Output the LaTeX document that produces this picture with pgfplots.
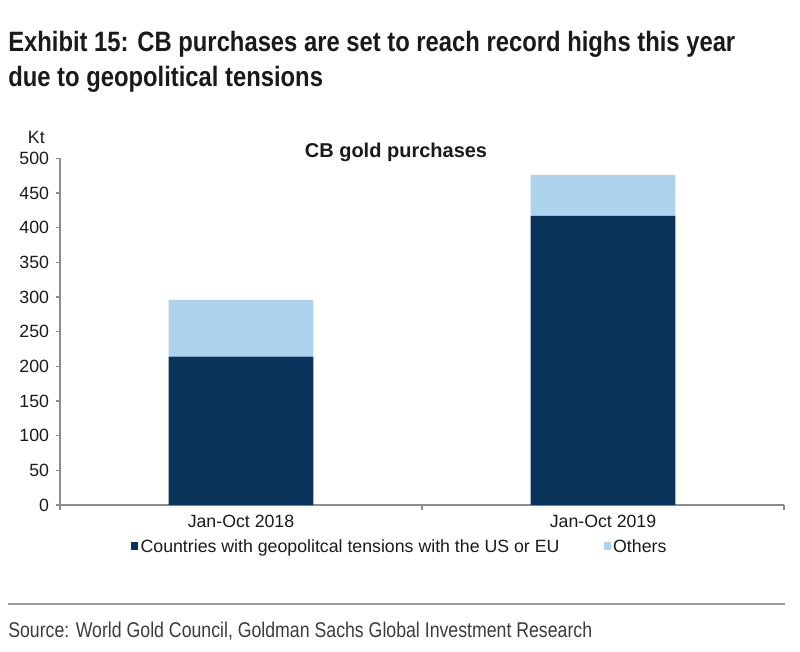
\documentclass[border=0pt]{standalone}
\usepackage{pgfplots}
\pgfplotsset{compat=1.18}
\usepackage{fontspec}
\setmainfont{Liberation Sans}
\newfontfamily\titlefont[FakeStretch=0.85]{Liberation Sans}
\newfontfamily\narrowfont[FakeStretch=0.83]{Liberation Sans}

\definecolor{cbnavy}{HTML}{0A335C}
\definecolor{cblight}{HTML}{AED3EE}
\definecolor{axisgray}{HTML}{8C8C8C}
\definecolor{rulegray}{HTML}{9A9A9A}
\definecolor{txt}{HTML}{1A1A1A}

% image is 800x651 px, 1px = 0.75pt, origin at top left
\begin{document}
\begin{tikzpicture}
\path[use as bounding box] (0pt,0pt) rectangle (600pt,-488.25pt);

\node[anchor=base west, inner sep=0pt, text=txt] at (6pt,-38.25pt)
  {\fontsize{21}{26}\titlefont\bfseries Exhibit 15: CB purchases are set to reach record highs this year};
\node[anchor=base west, inner sep=0pt, text=txt] at (6pt,-64.5pt)
  {\fontsize{21}{26}\titlefont\bfseries due to geopolitical tensions};

\node[anchor=base east, inner sep=0pt, text=txt] at (33.75pt,-107.25pt)
  {\fontsize{13.3}{15}\selectfont Kt};
\node[anchor=base, inner sep=0pt, text=txt] at (297pt,-117.75pt)
  {\fontsize{15}{18}\selectfont\bfseries CB gold purchases};

\begin{axis}[
    at={(45pt,-378.75pt)}, anchor=south west,
    scale only axis, width=543pt, height=260pt,
    xmin=-0.5, xmax=1.5, ymin=0, ymax=500,
    axis lines*=left,
    axis line style={draw=axisgray, line width=0.9pt},
    ybar stacked, bar width=0.4,
    xtick={0,1}, xticklabels={Jan-Oct 2018, Jan-Oct 2019},
    major x tick style={draw=none},
    minor xtick={-0.5,0.5,1.5},
    minor x tick style={draw=axisgray, line width=0.9pt},
    minor tick length=4pt,
    ytick={0,50,...,500},
    y tick style={draw=axisgray, line width=0.9pt},
    major tick length=3pt,
    tick align=outside,
    tick label style={font=\fontsize{13.3}{15}\selectfont, text=txt},
    /pgf/number format/assume math mode=true,
    yticklabel style={inner sep=0pt, xshift=-5pt},
    xticklabel style={anchor=base, inner sep=0pt, yshift=-14pt},
    legend columns=2,
    legend style={at={(0.4696,-0.121)}, anchor=center, draw=none, fill=none,
      font=\fontsize{13.3}{15}\selectfont, text=txt,
      /tikz/every even column/.append style={column sep=31pt},
      inner sep=0pt},
    legend cell align=left,
    legend image code/.code={\fill[#1] (0pt,-2.5pt) rectangle (5.25pt,3.5pt);},
]
\addplot[fill=cbnavy, draw=none] coordinates {(0,214) (1,417)};
\addlegendentry{Countries with geopolitcal tensions with the US or EU}
\addplot[fill=cblight, draw=none] coordinates {(0,82) (1,59)};
\addlegendentry{Others}
\end{axis}

\draw[rulegray, line width=1.1pt] (6pt,-453pt) -- (589pt,-453pt);
\node[anchor=base west, inner sep=0pt, text=txt!85] at (6pt,-477.75pt)
  {\fontsize{16}{18}\narrowfont Source: World Gold Council, Goldman Sachs Global Investment Research};
\end{tikzpicture}
\end{document}
